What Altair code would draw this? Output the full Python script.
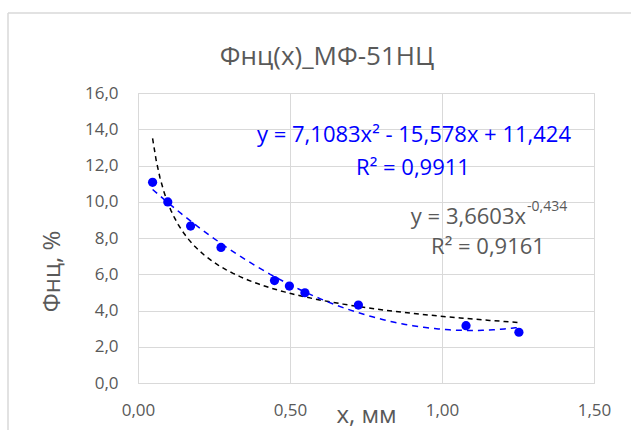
import altair as alt
import pandas as pd

x_vals = [0.048, 0.098, 0.173, 0.273, 0.449, 0.498, 0.549, 0.725, 1.079, 1.253]
y_vals = [11.07, 9.99, 8.66, 7.48, 5.65, 5.35, 4.98, 4.30, 3.16, 2.80]

title_text = "Фнц(x)_МФ-51НЦ"
x_title = "x, мм"
y_title = "Фнц, %"
x_ticks = [0, 0.5, 1.0, 1.5]
y_ticks = [0, 2, 4, 6, 8, 10, 12, 14, 16]
poly_eq = "y = 7,1083x² - 15,578x + 11,424"
poly_r2 = "R² = 0,9911"
pow_eq = "y = 3,6603x"
pow_exp = "-0,434"
pow_r2 = "R² = 0,9161"

df = pd.DataFrame({"x": x_vals, "y": y_vals})

FONT = "Open Sans"
GRAY = "#595959"
GRID = "#d9d9d9"
BLUE = "#0000ff"

xs = alt.Scale(domain=[0, 1.5], nice=False)
ys = alt.Scale(domain=[0, 16], nice=False)

xax = alt.Axis(
    values=x_ticks, tickCount=50, labelOverlap=False, labelFlush=False,
    labelExpr="replace(format(datum.value, '.2f'), '.', ',')",
    grid=True, gridColor=GRID, domainColor=GRID, ticks=False,
    labelPadding=19, labelFont=FONT, labelFontSize=17, labelColor=GRAY,
    title=x_title, titleFont=FONT, titleFontSize=24, titleFontWeight="normal",
    titleColor=GRAY, titleY=32, titleBaseline="middle",
)
yax = alt.Axis(
    values=y_ticks, tickCount=50, labelOverlap=False, labelFlush=False,
    labelExpr="replace(format(datum.value, '.1f'), '.', ',')",
    grid=True, gridColor=GRID, domainColor=GRID, ticks=False,
    labelPadding=20, labelFont=FONT, labelFontSize=17, labelColor=GRAY,
    title=y_title, titleFont=FONT, titleFontSize=24, titleFontWeight="normal",
    titleColor=GRAY, titleX=-86, titleY=178, titleAngle=270,
    titleAlign="center", titleBaseline="middle",
)

X = alt.X("x:Q", scale=xs, axis=xax)
Y = alt.Y("y:Q", scale=ys, axis=yax)

base = alt.Chart(df)

points = base.mark_circle(size=85, color=BLUE, opacity=1).encode(x=X, y=Y)

poly = base.transform_regression("x", "y", method="poly", order=2).mark_line(
    color=BLUE, strokeDash=[6, 5], strokeWidth=1.5
).encode(x=X, y=Y)

powl = base.transform_regression("x", "y", method="pow").mark_line(
    color="black", strokeDash=[5, 4], strokeWidth=1.5
).encode(x=X, y=Y)

one = alt.Chart(df).transform_filter("datum.x == %r" % x_vals[0])

def label(text, px, py, color, size, align="center"):
    return one.mark_text(
        font=FONT, fontSize=size, color=color, align=align, baseline="middle"
    ).encode(x=alt.value(px), y=alt.value(py), text=alt.value(text))

t0 = label(title_text, 189, -36, GRAY, 26)
t1 = label(poly_eq, 276, 42, BLUE, 22)
t2 = label(poly_r2, 275, 75, BLUE, 22)
t3 = label(pow_eq, 388, 124, GRAY, 22, "right")
t4 = label(pow_exp, 389, 114, GRAY, 14, "left")
t5 = label(pow_r2, 350, 154, GRAY, 22)

border_l = one.mark_rule(color=GRID, strokeWidth=1.5).encode(
    x=alt.value(-130), y=alt.value(-80), y2=alt.value(340))
border_t = one.mark_rule(color=GRID, strokeWidth=1.5).encode(
    x=alt.value(-130), x2=alt.value(500), y=alt.value(-80))

chart = alt.layer(
    border_l, border_t, powl, poly, points, t0, t1, t2, t3, t4, t5
).properties(
    width=456, height=290,
    autosize=alt.AutoSizeParams(type="none"),
    padding={"left": 138, "top": 93, "right": 37, "bottom": 47},
).configure_view(stroke=GRID).configure(background="white")

chart.save("out.html", embed_options={"renderer": "svg", "actions": False})
